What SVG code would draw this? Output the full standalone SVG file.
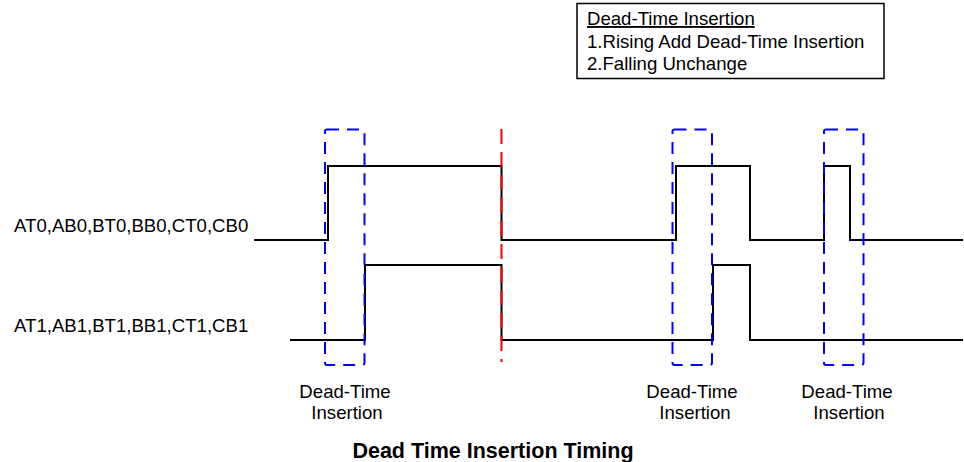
<svg xmlns="http://www.w3.org/2000/svg" width="964" height="462" viewBox="0 0 964 462">
<style>
text{font-family:"Liberation Sans",Arial,sans-serif;font-size:18.6px;fill:#000}
.sig{fill:none;stroke:#000;stroke-width:2}
.dt{fill:none;stroke:#0000ff;stroke-width:2;stroke-dasharray:12 8}
.red{fill:none;stroke:#ff0000;stroke-width:2;stroke-dasharray:15 8}
.c{text-anchor:middle}
text.title{font-size:21.5px;font-weight:bold}
</style>
<rect width="964" height="462" fill="#fff"/>
<g id="legend">
<rect x="577" y="3.5" width="307" height="75" fill="#fff" stroke="#000" stroke-width="1.5"/>
<text x="587" y="25" text-decoration="underline">Dead-Time Insertion</text>
<text x="587" y="47.5">1.Rising Add Dead-Time Insertion</text>
<text x="587" y="69.5">2.Falling Unchange</text>
</g>
<g id="labels">
<text x="14" y="232">AT0,AB0,BT0,BB0,CT0,CB0</text>
<text x="14" y="332">AT1,AB1,BT1,BB1,CT1,CB1</text>
</g>
<g id="connectors">
<path id="sig0" class="sig" d="M254,240 H328 V166 H501.5 V240 H676 V166 H750 V240 H824 V166 H850 V240 H963"/>
<path id="sig1" class="sig" d="M290,340 H365 V265 H501.5 V340 H713 V265 H750 V340 H963"/>
</g>
<g id="dt1">
<rect class="dt" x="325" y="129.5" width="39.5" height="235.5" rx="2"/>
<text class="c" x="345" y="398">Dead-Time</text>
<text class="c" x="347" y="419">Insertion</text>
</g>
<g id="dt2">
<rect class="dt" x="672.5" y="129.5" width="39.5" height="235.5" rx="2"/>
<text class="c" x="692" y="398">Dead-Time</text>
<text class="c" x="695" y="419">Insertion</text>
</g>
<g id="dt3">
<rect class="dt" x="824" y="129.5" width="39.5" height="235.5" rx="2"/>
<text class="c" x="847" y="398">Dead-Time</text>
<text class="c" x="849" y="419">Insertion</text>
</g>
<g id="falling-edge">
<line class="red" x1="501.5" y1="129" x2="501.5" y2="362"/>
</g>
<g id="title">
<text class="c title" x="493" y="458">Dead Time Insertion Timing</text>
</g>
</svg>
